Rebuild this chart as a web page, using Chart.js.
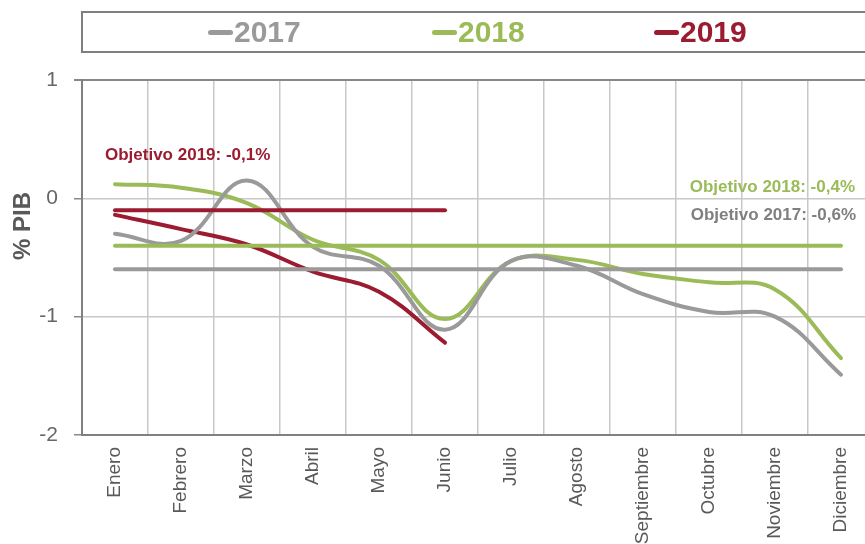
<!DOCTYPE html>
<html lang="es">
<head>
    <meta charset="UTF-8">
    <title>Déficit % PIB</title>
    <script src="https://cdn.jsdelivr.net/npm/chart.js"></script>
    <style>
        html, body {
            margin: 0;
            padding: 0;
            background: #fff;
            overflow: hidden;
            font-family: "Liberation Sans", Arial, sans-serif;
        }
        .wrap {
            position: relative;
            width: 880px;
            height: 544px;
        }
        .legend-box {
            position: absolute;
            left: 81px;
            top: 11px;
            width: 820px;
            height: 38px;
            border: 2px solid #7f7f7f;
        }
        .item {
            position: absolute;
            top: 3px;
            font-weight: bold;
            font-size: 30px;
            line-height: 32px;
        }
        .item .mark {
            display: inline-block;
            width: 25px;
            height: 5px;
            border-radius: 3px;
            vertical-align: middle;
            margin-right: 1px;
            position: relative;
            top: -2px;
        }
    </style>
</head>
<body>
    <div class="wrap">
        <canvas id="chart" width="880" height="544"></canvas>
        <div class="legend-box" id="legend"></div>
    </div>
    <script>
        // Data
        const months = ['Enero', 'Febrero', 'Marzo', 'Abril', 'Mayo', 'Junio', 'Julio', 'Agosto', 'Septiembre', 'Octubre', 'Noviembre', 'Diciembre'];
        const years = ['2017', '2018', '2019'];
        const v2017 = [-0.30, -0.36, 0.15, -0.41, -0.57, -1.11, -0.53, -0.57, -0.81, -0.96, -1.00, -1.49];
        const v2018 = [0.12, 0.09, -0.04, -0.35, -0.52, -1.02, -0.53, -0.52, -0.64, -0.71, -0.77, -1.35];
        const v2019 = [-0.14, -0.26, -0.39, -0.62, -0.79, -1.22];
        const targets = [-0.6, -0.4, -0.1];
        const targetLabels = ['Objetivo 2017: -0,6%', 'Objetivo 2018: -0,4%', 'Objetivo 2019: -0,1%'];
        const yTicks = [1, 0, -1, -2];

        const colors = ['#9a9a9a', '#9bbb59', '#9b1b30'];
        const noteColors = ['#7f7f7f', '#9bbb59', '#9b1b30'];

        // target lines: 2017 and 2018 run all year, 2019 only while there is data
        const target2017 = months.map(() => targets[0]);
        const target2018 = months.map(() => targets[1]);
        const target2019 = months.map((m, i) => i < v2019.length ? targets[2] : null);

        // legend (html)
        const legendBox = document.getElementById('legend');
        const legendLeft = [125, 349, 571];
        years.forEach((y, i) => {
            const el = document.createElement('div');
            el.className = 'item';
            el.style.left = legendLeft[i] + 'px';
            el.style.color = colors[i];
            el.innerHTML = '<span class="mark" style="background:' + colors[i] + '"></span>' + y;
            legendBox.appendChild(el);
        });

        function line(data, color) {
            return {
                data: data,
                borderColor: color,
                backgroundColor: color,
                borderWidth: 4,
                borderCapStyle: 'round',
                pointRadius: 0,
                tension: 0.4,
                fill: false,
                spanGaps: false
            };
        }

        const notesPlugin = {
            id: 'notes',
            afterDatasetsDraw(chart) {
                const ctx = chart.ctx;
                const x = chart.scales.x, y = chart.scales.y;
                ctx.save();
                ctx.font = 'bold 17px "Liberation Sans", Arial, sans-serif';
                ctx.textBaseline = 'middle';
                // 2019 note, above the start of its target line
                ctx.textAlign = 'left';
                ctx.fillStyle = noteColors[2];
                ctx.fillText(targetLabels[2], x.getPixelForValue(0) - 10, y.getPixelForValue(0.36));
                // 2018 and 2017 notes, at the right
                ctx.textAlign = 'right';
                ctx.fillStyle = noteColors[1];
                ctx.fillText(targetLabels[1], 855, y.getPixelForValue(0.09));
                ctx.fillStyle = noteColors[0];
                ctx.fillText(targetLabels[0], 856, y.getPixelForValue(-0.14));

                // y axis title
                ctx.translate(23, 226);
                ctx.rotate(-Math.PI / 2);
                ctx.textAlign = 'center';
                ctx.font = 'bold 24px "Liberation Sans", Arial, sans-serif';
                ctx.fillStyle = '#595959';
                ctx.fillText('% PIB', 0, 0);
                ctx.restore();
            }
        };

        new Chart(document.getElementById('chart'), {
            type: 'line',
            data: {
                labels: months,
                datasets: [
                    line(target2017, colors[0]),
                    line(target2018, colors[1]),
                    line(target2019, colors[2]),
                    line(v2017, colors[0]),
                    line(v2018, colors[1]),
                    line(v2019, colors[2])
                ]
            },
            options: {
                responsive: false,
                animation: false,
                layout: { padding: { top: 80, right: 6, left: 0, bottom: 0 } },
                plugins: {
                    legend: { display: false },
                    tooltip: { enabled: false }
                },
                scales: {
                    x: {
                        offset: true,
                        grid: {
                            offset: true,
                            color: '#c8c8c8',
                            lineWidth: 1.5,
                            drawTicks: false
                        },
                        border: { color: '#808080', width: 2 },
                        ticks: {
                            maxRotation: 90,
                            minRotation: 90,
                            padding: 12,
                            color: '#595959',
                            font: { family: '"Liberation Sans", Arial, sans-serif', size: 19 }
                        },
                        afterFit(scale) { scale.height = 109; }
                    },
                    y: {
                        min: -2,
                        max: 1,
                        afterBuildTicks(scale) { scale.ticks = yTicks.map(v => ({ value: v })); },
                        grid: {
                            color: ctx => ctx.tick && ctx.tick.value === 1 ? '#888888' : '#c8c8c8',
                            lineWidth: ctx => ctx.tick && ctx.tick.value === 1 ? 2 : 1.5,
                            tickLength: 8,
                            tickColor: '#888888'
                        },
                        border: { color: '#808080', width: 2 },
                        ticks: {
                            padding: 16,
                            color: '#666666',
                            font: { family: '"Liberation Sans", Arial, sans-serif', size: 21 },
                            callback: v => String(v)
                        },
                        afterFit(scale) { scale.width = 82; }
                    }
                }
            },
            plugins: [notesPlugin]
        });
    </script>
</body>
</html>
